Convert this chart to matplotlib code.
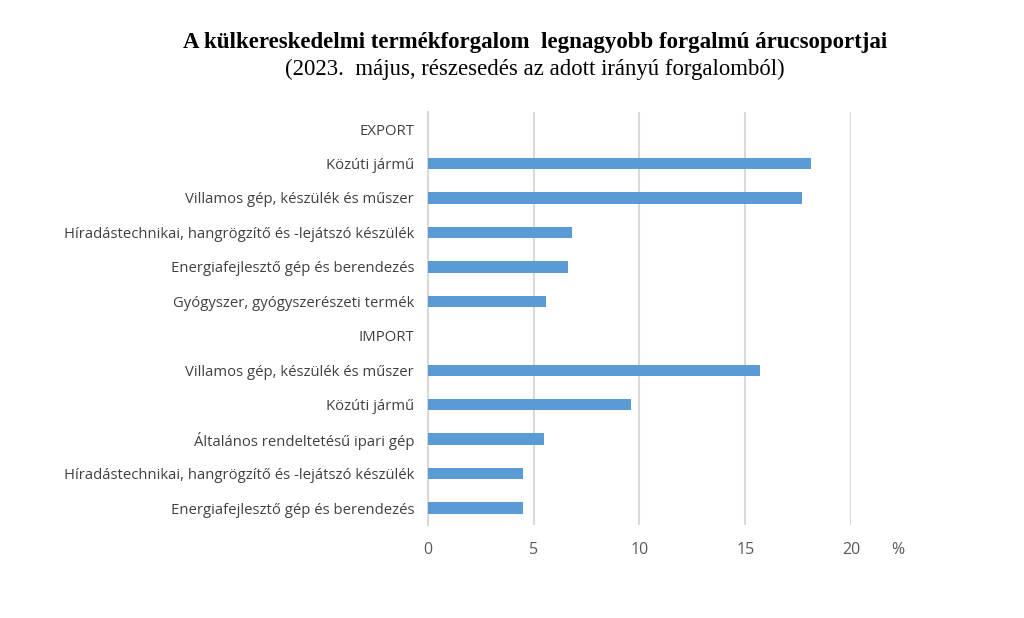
import matplotlib.pyplot as plt

categories = [
    "EXPORT",
    "Közúti jármű",
    "Villamos gép, készülék és műszer",
    "Híradástechnikai, hangrögzítő és -lejátszó készülék",
    "Energiafejlesztő gép és berendezés",
    "Gyógyszer, gyógyszerészeti termék",
    "IMPORT",
    "Villamos gép, készülék és műszer",
    "Közúti jármű",
    "Általános rendeltetésű ipari gép",
    "Híradástechnikai, hangrögzítő és -lejátszó készülék",
    "Energiafejlesztő gép és berendezés",
]
values = [0, 18.1, 17.7, 6.8, 6.6, 5.6, 0, 15.7, 9.6, 5.5, 4.5, 4.5]
xticks = [0, 5, 10, 15, 20]

fig = plt.figure(figsize=(10.24, 6.18), dpi=100)
ax = fig.add_axes([0.418, 0.150, 0.413, 0.669])

pos = list(range(len(categories)))
ax.barh(pos, values, height=0.33, color="#5b9bd5", zorder=3)

ax.set_ylim(len(categories) - 0.5, -0.5)
ax.set_xlim(0, 20)
ax.set_yticks(pos)
ax.set_yticklabels(categories, fontsize=10.7, color="#404040", family="Open Sans")
ax.set_xticks(xticks)
ax.set_xticklabels([str(t) for t in xticks], fontsize=11.5, color="#595959", family="Open Sans")
ax.tick_params(axis="both", length=0)
ax.tick_params(axis="y", pad=10)
ax.tick_params(axis="x", pad=12)

ax.grid(axis="x", color="#d9d9d9", linewidth=1.5, zorder=0)
for s in ["top", "right", "bottom"]:
    ax.spines[s].set_visible(False)
ax.spines["left"].set_color("#d9d9d9")
ax.spines["left"].set_linewidth(1.5)

ax.text(1.11, -0.04, "%", transform=ax.transAxes, fontsize=11.5, color="#595959",
        family="Open Sans", ha="center", va="top")

fig.text(0.523, 0.932, "A külkereskedelmi termékforgalom  legnagyobb forgalmú árucsoportjai",
         ha="center", va="center", fontsize=16.5, fontweight="bold", family="Liberation Serif")
fig.text(0.522, 0.887, "(2023.  május, részesedés az adott irányú forgalomból)",
         ha="center", va="center", fontsize=16.4, family="Liberation Serif")

plt.savefig("out.png")
